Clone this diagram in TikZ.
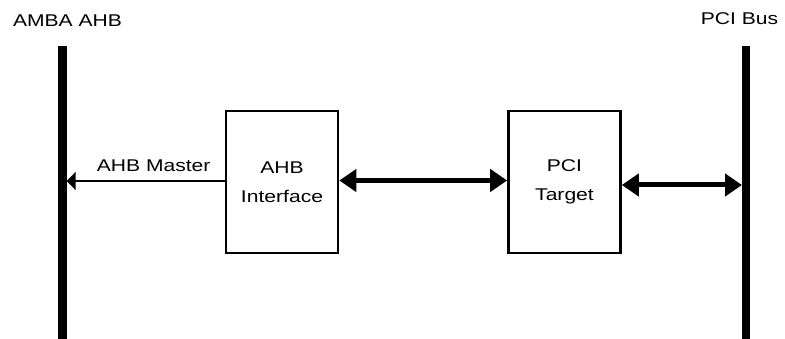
\documentclass[tikz,border=0pt]{standalone}
\usepackage{fontspec}
\setmainfont{Liberation Sans}[FakeStretch=1.24]
\usetikzlibrary{arrows.meta}
\begin{document}
\begin{tikzpicture}[x=1pt,y=-1pt,
  txt/.style={font=\fontsize{17}{29}\selectfont, inner sep=0pt},
  block/.style={draw, line width=2.6pt, minimum width=112pt, minimum height=142pt,
    align=center, inner sep=0pt, font=\fontsize{17}{29}\selectfont},
  bus/.style={line width=8.3pt},
  thin/.style={line width=2.6pt, -{Triangle[length=9pt,width=18pt]}},
  thick/.style={line width=5pt, {Triangle[length=17pt,width=22pt]}-{Triangle[length=17pt,width=22pt]}}]
\useasboundingbox (0,0) rectangle (785,339);
% buses
\coordinate (lbt) at (62.5,46);
\coordinate (lbb) at (62.5,338.5);
\coordinate (rbt) at (746.2,46);
\coordinate (rbb) at (746.2,338.5);
\draw[bus] (lbt) -- (lbb);
\draw[bus] (rbt) -- (rbb);
\node[txt, anchor=base] (lbl) at (67.5,27) {AMBA AHB};
\node[txt, anchor=base] (rbl) at (739.5,25) {PCI Bus};
% blocks
\node[block] (ahb) at (282,182) {AHB\\Interface};
\node[block] (pci) at (564.5,182) {PCI\\Target};
% connectors
\coordinate (lhit) at (66.7,181);
\draw[thin] (ahb.west |- lhit) -- (lhit);
\node[txt, anchor=base] (am) at (153.7,172) {AHB Master};
\draw[thick] ([yshift=1.5pt]ahb.east) -- ([yshift=1.5pt]pci.west);
\coordinate (rhit) at (742,185);
\draw[thick] (pci.east |- rhit) -- (rhit);
\end{tikzpicture}
\end{document}
